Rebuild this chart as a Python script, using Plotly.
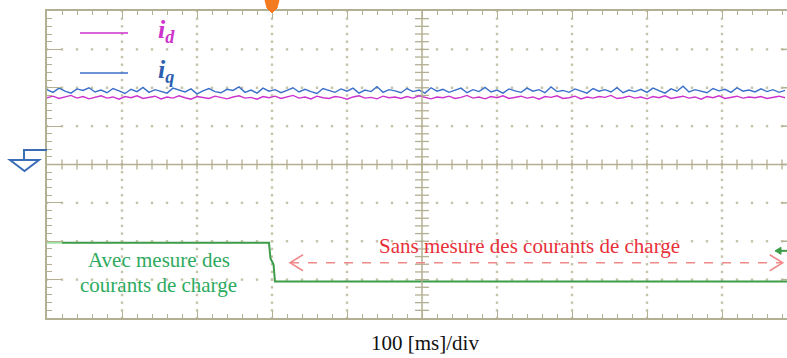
import plotly.graph_objects as go

# ---------------- data (time in ms, amplitude in divisions) ----------------
t_dq = [i * 8 for i in range(124)]

iq_vals = [1.95,1.88,1.99,1.91,1.86,1.97,1.93,2.00,1.89,1.94,
           1.87,1.98,1.92,1.85,1.96,1.90,2.01,1.88,1.95,1.91,
           1.86,1.99,1.93,1.89,1.97,1.84,1.92,1.98,1.90,1.87,
           1.96,1.93,2.02,1.88,1.94,1.86,1.99,1.91,1.95,1.87,
           1.93,2.00,1.89,1.96,1.90,1.85,1.98,1.92,1.88,1.97,
           1.91,1.99,1.86,1.94,1.90,2.03,1.88,1.95,1.92,1.87,
           1.98,1.90,1.94,1.86,2.00,1.91,1.96,1.88,1.93,1.99,
           1.87,1.95,1.90,2.01,1.89,1.94,1.86,1.97,1.92,1.88,
           1.99,1.91,1.95,1.87,2.02,1.90,1.93,1.88,1.97,1.92,
           1.86,1.98,1.91,1.95,1.89,2.00,1.87,1.94,1.90,1.96,
           1.88,1.99,1.93,1.86,1.97,1.91,2.04,1.89,1.95,1.90,
           1.87,1.98,1.92,1.96,1.88,2.00,1.91,1.94,1.89,1.97,
           1.90,1.95,1.88,1.93]

id_vals = [1.74,1.78,1.72,1.76,1.80,1.73,1.77,1.71,1.75,1.79,
           1.73,1.76,1.70,1.77,1.74,1.79,1.72,1.75,1.78,1.71,
           1.76,1.73,1.79,1.74,1.70,1.77,1.75,1.72,1.78,1.74,
           1.71,1.76,1.79,1.73,1.75,1.70,1.77,1.74,1.78,1.72,
           1.75,1.80,1.73,1.76,1.71,1.78,1.74,1.72,1.77,1.75,
           1.70,1.76,1.79,1.73,1.75,1.71,1.78,1.74,1.76,1.72,
           1.77,1.73,1.79,1.75,1.71,1.76,1.74,1.78,1.72,1.75,
           1.80,1.73,1.76,1.71,1.77,1.74,1.79,1.72,1.75,1.78,
           1.73,1.76,1.70,1.77,1.75,1.79,1.72,1.74,1.78,1.71,
           1.76,1.73,1.77,1.75,1.80,1.72,1.74,1.78,1.73,1.76,
           1.71,1.77,1.74,1.79,1.72,1.75,1.78,1.73,1.76,1.70,
           1.77,1.74,1.79,1.72,1.75,1.78,1.73,1.76,1.74,1.77,
           1.72,1.75,1.78,1.74]

mode_t = [0, 20, 296, 298, 300, 302, 304, 987]
mode_v = [-2.04, -2.04, -2.04, -2.45, -2.55, -2.60, -3.05, -3.05]

x_label = "100 [ms]/div"
txt_with = ["Avec mesure des", "courants de charge"]
txt_without = "Sans mesure des courants de charge"

# ---------------- styling ----------------
X_MAX = 986.67
AX = "#b3af92"
DOT = "#c6c3aa"
MAG = "#cc33cc"
BLU = "#3a6fc8"
GRN = "#3c9c48"
PXX = 100 / 75.0      # ms per pixel
PXY = 1 / 38.375      # div per pixel

fig = go.Figure()

# dotted grid
gx, gy = [], []
for k in range(1, 10):
    if k == 5:
        continue
    for j in range(-20, 21):
        gx.append(k * 100); gy.append(j * 0.2)
for j in [-3, -2, -1, 1, 2, 3]:
    for k in range(0, 50):
        gx.append(k * 20); gy.append(j)
fig.add_trace(go.Scatter(x=gx, y=gy, mode="markers", hoverinfo="skip",
                         marker=dict(size=2.4, color=DOT, symbol="square"), showlegend=False))

# centre cross with ticks
fig.add_shape(type="line", x0=500, x1=500, y0=-4, y1=4, line=dict(color=AX, width=1.5))
fig.add_shape(type="line", x0=0, x1=X_MAX, y0=0, y1=0, line=dict(color=AX, width=1.5))
cx = [k * 20 for k in range(1, 50)]
fig.add_trace(go.Scatter(x=cx, y=[0] * len(cx), mode="markers", hoverinfo="skip", showlegend=False,
                         marker=dict(symbol="line-ns", size=7, line=dict(color=AX, width=1.3))))
cy = [j * 0.2 for j in range(-19, 20)]
fig.add_trace(go.Scatter(x=[500] * len(cy), y=cy, mode="markers", hoverinfo="skip", showlegend=False,
                         marker=dict(symbol="line-ew", size=10, line=dict(color=AX, width=1.3))))

# right-edge major ticks (border lies just outside the picture)
for j in range(-3, 4):
    fig.add_shape(type="line", xref="paper", x0=735 / 740, x1=1, y0=j, y1=j,
                  line=dict(color=AX, width=1.5))

# traces
fig.add_trace(go.Scatter(x=t_dq, y=iq_vals, mode="lines", line=dict(color=BLU, width=1.4),
                         showlegend=False, name="iq"))
fig.add_trace(go.Scatter(x=t_dq, y=id_vals, mode="lines", line=dict(color=MAG, width=1.4),
                         showlegend=False, name="id"))
fig.add_trace(go.Scatter(x=mode_t[:2], y=mode_v[:2], mode="lines", line=dict(color="#9ee29e", width=1.8),
                         showlegend=False))
fig.add_trace(go.Scatter(x=mode_t[1:], y=mode_v[1:], mode="lines", line=dict(color=GRN, width=2),
                         showlegend=False))

# red dashed double arrow
RED_L = "#f08a8a"
ya = -2.56
fig.add_shape(type="line", x0=324, x1=981, y0=ya, y1=ya, line=dict(color=RED_L, width=1.5, dash="dash"))
for xt, d in [(324, 1), (981, -1)]:
    fig.add_shape(type="path",
                  path=f"M {xt + d * 13 * PXX},{ya + 8 * PXY} L {xt},{ya} L {xt + d * 13 * PXX},{ya - 8 * PXY}",
                  line=dict(color=RED_L, width=1.5))

# green channel marker at right
yg = -2.25
fig.add_shape(type="line", x0=(779 - 47) * PXX, x1=X_MAX, y0=yg, y1=yg, line=dict(color=GRN, width=2))
fig.add_shape(type="path",
              path=f"M {(775 - 47) * PXX},{yg} L {(781 - 47) * PXX},{yg + 3.5 * PXY} L {(781 - 47) * PXX},{yg - 3.5 * PXY} Z",
              fillcolor=GRN, line=dict(color=GRN, width=1))

# ground marker (paper coords)
def px(x): return (x - 47) / 740.0
def py(y): return (318 - y) / 307.0
fig.add_shape(type="path", xref="paper", yref="paper",
              path=f"M {px(47)},{py(150)} L {px(24)},{py(150)} L {px(24)},{py(160)}",
              line=dict(color="#3a6db5", width=2))
fig.add_shape(type="path", xref="paper", yref="paper",
              path=f"M {px(10)},{py(160)} L {px(39)},{py(160)} L {px(24.5)},{py(171)} Z",
              line=dict(color="#3a6db5", width=2), fillcolor="rgba(0,0,0,0)")

# trigger marker
fig.add_shape(type="path", xref="paper", yref="paper",
              path=f"M {px(265)},{py(0)} L {px(279)},{py(0)} L {px(277)},{py(8)} L {px(272)},{py(13)} L {px(267)},{py(8)} Z",
              fillcolor="#f47a20", line=dict(color="#f47a20", width=1))

# legend
fig.add_shape(type="line", xref="paper", yref="paper", x0=px(80), x1=px(128), y0=py(33), y1=py(33),
              line=dict(color=MAG, width=1.6))
fig.add_shape(type="line", xref="paper", yref="paper", x0=px(80), x1=px(128), y0=py(73), y1=py(73),
              line=dict(color=BLU, width=1.6))
SERIF = "Liberation Serif"
fig.add_annotation(xref="paper", yref="paper", x=px(156), y=py(31), xanchor="left", yanchor="middle",
                   text="<b><i>i<sub>d</sub></i></b>", showarrow=False,
                   font=dict(family=SERIF, size=26, color=MAG))
fig.add_annotation(xref="paper", yref="paper", x=px(156), y=py(71), xanchor="left", yanchor="middle",
                   text="<b><i>i<sub>q</sub></i></b>", showarrow=False,
                   font=dict(family=SERIF, size=26, color="#2f5fb0"))

# texts
fig.add_annotation(xref="paper", yref="paper", x=px(159), y=py(260), xanchor="center", yanchor="middle",
                   text=txt_with[0], showarrow=False, font=dict(family=SERIF, size=21, color="#2eaa5e"))
fig.add_annotation(xref="paper", yref="paper", x=px(158), y=py(285), xanchor="center", yanchor="middle",
                   text=txt_with[1], showarrow=False, font=dict(family=SERIF, size=21, color="#2eaa5e"))
fig.add_annotation(xref="paper", yref="paper", x=px(529), y=py(246), xanchor="center", yanchor="middle",
                   text=txt_without, showarrow=False, font=dict(family=SERIF, size=21, color="#e8303a"))
fig.add_annotation(xref="paper", yref="paper", x=px(425), y=py(343), xanchor="center", yanchor="middle",
                   text=x_label, showarrow=False, font=dict(family=SERIF, size=21, color="#111111"))

fig.update_layout(
    width=787, height=358,
    margin=dict(l=47, r=0, t=11, b=40),
    paper_bgcolor="white", plot_bgcolor="white",
    showlegend=False,
    xaxis=dict(range=[0, X_MAX], showgrid=False, zeroline=False, showticklabels=False, automargin=False,
               showline=True, linecolor=AX, linewidth=1.5, mirror="ticks",
               ticks="inside", tickcolor=AX, ticklen=7, tickwidth=1.3, tick0=0, dtick=100,
               minor=dict(ticks="inside", ticklen=4, tickcolor=AX, tickwidth=1.3, dtick=20, tick0=0,
                          showgrid=False)),
    yaxis=dict(range=[-4, 4], showgrid=False, zeroline=False, showticklabels=False, automargin=False,
               showline=True, linecolor=AX, linewidth=1.5,
               ticks="inside", tickcolor=AX, ticklen=15, tickwidth=1.3, tick0=0, dtick=1,
               minor=dict(ticks="inside", ticklen=5, tickcolor=AX, tickwidth=1.3, dtick=0.2, tick0=0,
                          showgrid=False)),
)

fig.write_html("out.html", config={"displayModeBar": False},
               post_script="document.body.style.margin='0px';")
